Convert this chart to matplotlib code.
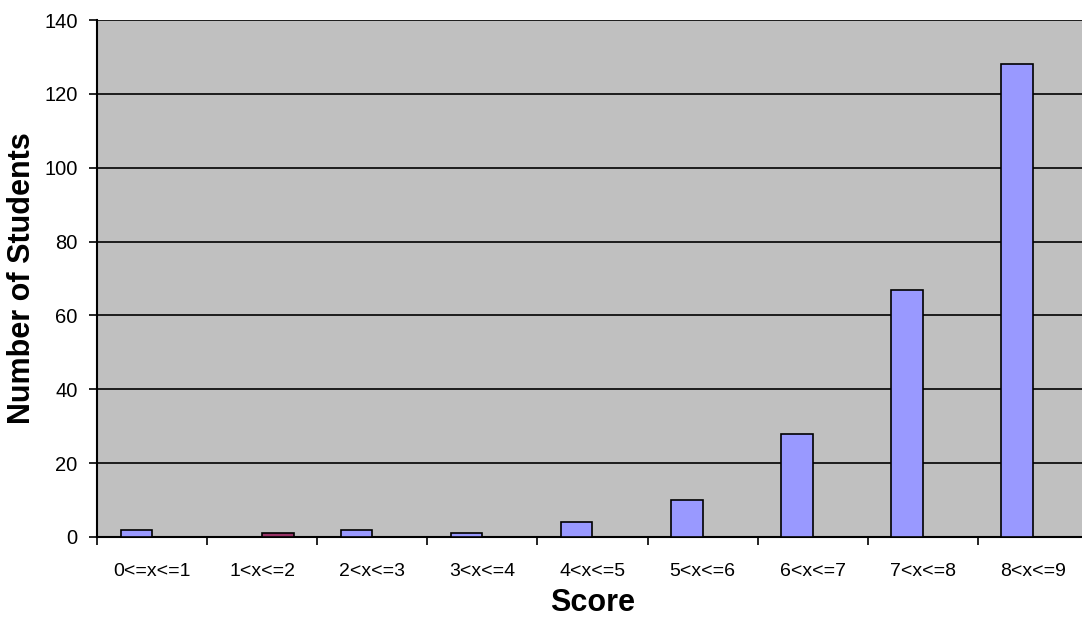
import matplotlib
matplotlib.use("Agg")
import matplotlib.pyplot as plt
import numpy as np

categories = ["0<=x<=1", "1<x<=2", "2<x<=3", "3<x<=4", "4<x<=5",
              "5<x<=6", "6<x<=7", "7<x<=8", "8<x<=9"]
series1 = [2, 0, 2, 1, 4, 10, 28, 67, 128]
series2 = [0, 1, 0, 0, 0, 0, 0, 0, 0]

plt.rcParams['font.family'] = ['Liberation Sans', 'DejaVu Sans']

fig = plt.figure(figsize=(10.82, 6.17), dpi=100)
W, H = 1082, 617
left, right, top, bottom = 97, 1088, 20, 537
ax = fig.add_axes([left / W, 1 - bottom / H, (right - left) / W, (bottom - top) / H])
ax.set_facecolor("#C0C0C0")

x = np.arange(len(categories))
w = 1 / 3.5
ax.bar(x - w / 2, series1, width=w, color="#9999FF", edgecolor="black", linewidth=1.2, zorder=3)
ax.bar(x + w / 2, series2, width=w, color="#993366", edgecolor="black", linewidth=1.2, zorder=3)

ax.set_xlim(-0.5, len(categories) - 0.5)
ax.set_ylim(0, 140)
ax.set_yticks(np.arange(0, 141, 20))
ax.set_xticks(np.arange(len(categories) + 1) - 0.5)
ax.set_xticklabels([])
ax.set_xticks(x, minor=True)
ax.set_xticklabels(categories, minor=True, fontsize=14)
ax.tick_params(axis='x', which='minor', length=0, pad=18.5)
ax.tick_params(axis='x', which='major', length=6, width=1.2, direction='out', color='black')
ax.tick_params(axis='y', length=6, width=1.2, direction='out', labelsize=14.5, pad=8)

ax.grid(axis='y', color='black', linewidth=1.2, zorder=1)
ax.set_axisbelow(True)
for s in ['top', 'right']:
    ax.spines[s].set_visible(False)
ax.spines['left'].set_linewidth(1.5)
ax.spines['bottom'].set_linewidth(1.5)

ax.set_xlabel("Score", fontsize=22, fontweight='bold', labelpad=6)
ax.set_ylabel("Number of Students", fontsize=22, fontweight='bold', labelpad=5)

fig.savefig("out.png", dpi=100)
